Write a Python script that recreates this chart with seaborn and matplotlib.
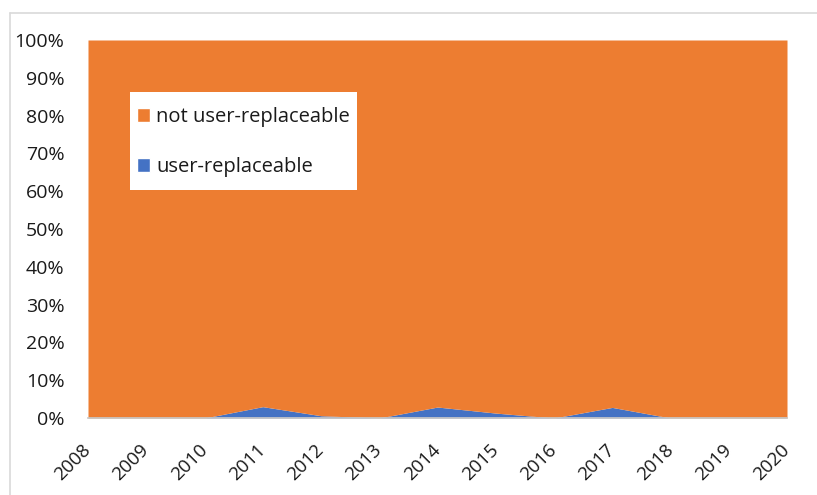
import matplotlib
matplotlib.use("Agg")
import matplotlib.pyplot as plt
import seaborn as sns
import numpy as np
from matplotlib.lines import Line2D
from matplotlib.patches import Patch, Rectangle

years = [2008, 2009, 2010, 2011, 2012, 2013, 2014, 2015, 2016, 2017, 2018, 2019, 2020]
user_replaceable = [0.0, 0.0, 0.0, 3.0, 0.6, 0.0, 2.9, 1.3, 0.0, 2.8, 0.0, 0.0, 0.0]
not_user_replaceable = [100 - v for v in user_replaceable]
series_names = ["user-replaceable", "not user-replaceable"]
colors = ["#4472C4", "#ED7D31"]
y_ticks = [0, 10, 20, 30, 40, 50, 60, 70, 80, 90, 100]

sns.set_theme(style="white")
plt.rcParams['font.family'] = ['Open Sans', 'DejaVu Sans']

W, H = 817, 495
fig = plt.figure(figsize=(W / 100, H / 100), dpi=100)
ax = fig.add_axes([88/W, 1 - 418/H, (787 - 88)/W, (418 - 40)/H])

ax.stackplot(years, user_replaceable, not_user_replaceable, colors=colors, linewidth=0)
ax.set_xlim(years[0], years[-1])
ax.set_ylim(0, 100)
ax.set_yticks(y_ticks)
ax.set_yticklabels([f"{t}%" for t in y_ticks], fontsize=14, color="#1a1a1a")
ax.set_xticks(years)
ax.set_xticklabels([str(y) for y in years], fontsize=13.5, color="#1a1a1a",
                   rotation=45, ha="right", va="center", rotation_mode="anchor")
ax.tick_params(axis="x", pad=21, length=0)
ax.tick_params(axis="y", pad=17, length=0)
for s in ["top", "right", "left"]:
    ax.spines[s].set_visible(False)
ax.spines["bottom"].set_color("#c8c8c8")

# legend background box
fig.add_artist(Rectangle((130/W, 1 - 190/H), (357 - 130)/W, (190 - 92)/H,
                         facecolor="white", edgecolor="none", transform=fig.transFigure, zorder=4))

handles = [Patch(facecolor=colors[1], label=series_names[1]),
           Patch(facecolor=colors[0], label=series_names[0])]
leg = fig.legend(handles=handles, loc="upper left", bbox_to_anchor=(137/W, 1 - 107/H),
                 frameon=False, fontsize=14.5, handlelength=0.65, handleheight=0.65,
                 handletextpad=0.3, labelspacing=1.5, borderpad=0, borderaxespad=0)
leg.set_zorder(5)
for t in leg.get_texts():
    t.set_color("#1a1a1a")

# outer frame lines (screenshot border)
fig.add_artist(Line2D([10/W, 1], [1 - 13/H, 1 - 13/H], color="#d9d9d9", lw=1.2, transform=fig.transFigure))
fig.add_artist(Line2D([10/W, 10/W], [0, 1 - 13/H], color="#d9d9d9", lw=1.2, transform=fig.transFigure))

fig.savefig("out.png", dpi=100)
